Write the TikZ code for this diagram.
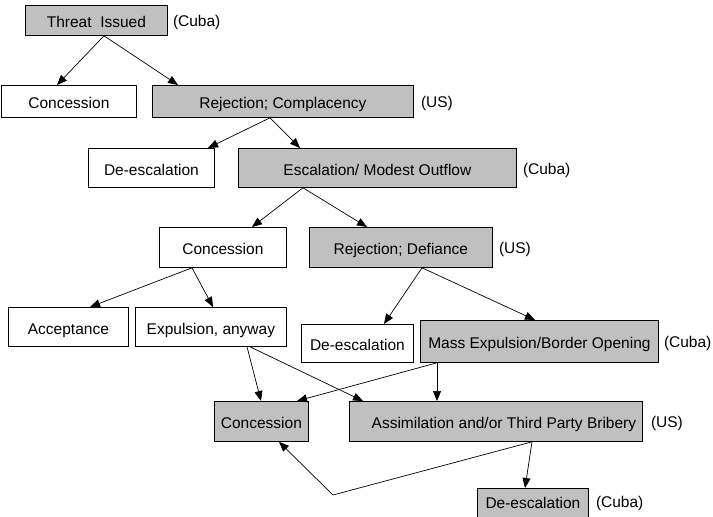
\documentclass[tikz,border=0pt]{standalone}
\usepackage{fontspec}
\setmainfont{Liberation Sans}
\usetikzlibrary{arrows.meta,calc}
\definecolor{boxgray}{RGB}{192,192,192}
\tikzset{
  box/.style={draw=black, line width=0.8pt, fill=white, inner sep=0pt, anchor=north west, text height=15pt, text depth=0pt, font=\fontsize{15.5}{18}\selectfont},
  gbox/.style={box, fill=boxgray},
  who/.style={anchor=base west, inner sep=0pt, font=\fontsize{15.5}{18}\selectfont},
  arr/.style={draw=black, line width=0.7pt, -{Triangle[length=10pt,width=8pt]}},
}
\begin{document}
\begin{tikzpicture}[x=1pt,y=-1pt]
\useasboundingbox (0,0) rectangle (713,517);
% nodes
\node[gbox, minimum width=142pt, minimum height=30pt] (thr) at (25,5) {Threat\ \ Issued};
\node[box, minimum width=135pt, minimum height=32pt] (con1) at (1,85) {Concession};
\node[gbox, minimum width=261pt, minimum height=32pt] (rejc) at (152,85) {Rejection; Complacency};
\node[box, minimum width=126pt, minimum height=39pt] (des1) at (88,148) {De-escalation};
\node[gbox, minimum width=278pt, minimum height=39pt] (esc) at (238,148) {Escalation/ Modest Outflow};
\node[box, minimum width=127pt, minimum height=40pt] (con2) at (159,227) {Concession};
\node[gbox, minimum width=183pt, minimum height=40pt] (rejd) at (309,227) {Rejection; Defiance};
\node[box, minimum width=120pt, minimum height=39pt] (acc) at (8,307) {Acceptance};
\node[box, minimum width=151pt, minimum height=39pt] (exp) at (135,307) {Expulsion, anyway};
\node[box, minimum width=112pt, minimum height=38pt] (des2) at (301,324) {De-escalation};
\node[gbox, minimum width=238pt, minimum height=42pt] (mass) at (420,320) {Mass Expulsion/Border Opening};
\node[gbox, minimum width=94pt, minimum height=40pt] (con3) at (214,401) {Concession};
\node[gbox, minimum width=293pt, minimum height=40pt] (asm) at (349,401) {\hspace*{16pt}Assimilation and/or Third Party Bribery};
\node[gbox, minimum width=111pt, minimum height=34pt, text height=11pt, text depth=4pt] (des3) at (477,488) {De-escalation};
% actor labels
\node[who] (l1) at ([xshift=5pt,yshift=1pt]thr.base east) {(Cuba)};
\node[who] (l2) at ([xshift=7pt,yshift=1pt]rejc.base east) {(US)};
\node[who] (l3) at ([xshift=6pt,yshift=1pt]esc.base east) {(Cuba)};
\node[who] (l4) at ([xshift=6pt,yshift=1pt]rejd.base east) {(US)};
\node[who] (l5) at ([xshift=5pt,yshift=1pt]mass.base east) {(Cuba)};
\node[who] (l6) at ([xshift=8pt,yshift=1pt]asm.base east) {(US)};
\node[who] (l7) at ([xshift=7pt,yshift=1pt]des3.base east) {(Cuba)};
% named end points
\coordinate (pthr) at ([xshift=79pt]thr.south west);
\coordinate (prejc) at ([xshift=118pt]rejc.south west);
\coordinate (pesc) at ([xshift=65pt]esc.south west);
\coordinate (pcon2) at ([xshift=33pt]con2.south west);
\coordinate (prejd) at ([xshift=113pt]rejd.south west);
\coordinate (pexp) at ([xshift=112pt]exp.south west);
\coordinate (pmass) at ([xshift=17pt]mass.south west);
\coordinate (pasm) at ([xshift=183pt]asm.south west);
\coordinate (bend) at (333,495);
% connectors
\draw[arr] (pthr) -- ([xshift=56pt]con1.north west);
\draw[arr] (pthr) -- ([xshift=26pt]rejc.north west);
\draw[arr] (prejc) -- ([xshift=120pt]des1.north west);
\draw[arr] (prejc) -- ([xshift=62pt]esc.north west);
\draw[arr] (pesc) -- ([xshift=93pt]con2.north west);
\draw[arr] (pesc) -- ([xshift=58pt]rejd.north west);
\draw[arr] (pcon2) -- ([xshift=82pt]acc.north west);
\draw[arr] (pcon2) -- ([xshift=78pt]exp.north west);
\draw[arr] (prejd) -- ([xshift=83pt]des2.north west);
\draw[arr] (prejd) -- ([xshift=115pt]mass.north west);
\draw[arr] (pexp) -- ([xshift=47pt]con3.north west);
\draw[arr] ([xshift=3pt]pexp) -- ([xshift=14pt]asm.north west);
\draw[arr] (pmass) -- ([xshift=83pt]con3.north west);
\draw[arr] (pmass) -- ([xshift=88pt]asm.north west);
\draw[arr] (pasm) -- ([xshift=48pt]des3.north west);
\draw[arr] (pasm) -- (bend) -- ([xshift=65pt]con3.south west);
\end{tikzpicture}
\end{document}
